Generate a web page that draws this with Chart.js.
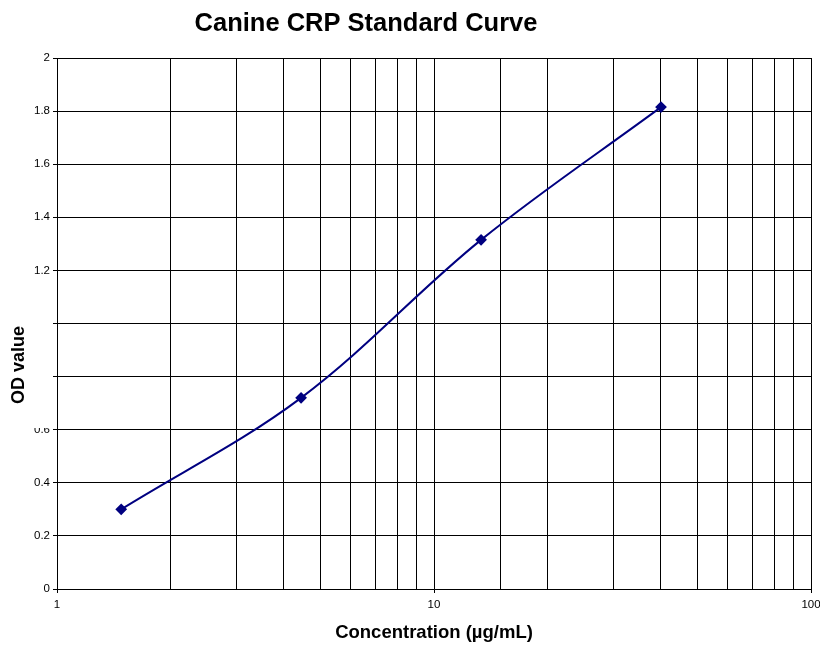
<!DOCTYPE html>
<html>
<head>
<meta charset="utf-8">
<script src="https://cdn.jsdelivr.net/npm/chart.js@4"></script>
<style>
  html, body { margin: 0; padding: 0; background: #fff; }
  #wrap { width: 820px; height: 646px; }
</style>
</head>
<body>
<div id="wrap"><canvas id="chart" width="820" height="646"></canvas></div>
<script>
const concentrations = [1.48, 4.44, 13.33, 40];
const odValues = [0.30, 0.72, 1.315, 1.815];
const xTickLabels = [1, 10, 100];

const FONT = "'Liberation Sans', Arial, sans-serif";

const isDecade = v => xTickLabels.some(t => Math.abs(t - v) < 1e-9);

// titles drawn by hand so the y title can sit on top of the tick labels like the original
const titlesPlugin = {
  id: "titles",
  afterDraw(chart) {
    const ctx = chart.ctx;
    ctx.save();
    ctx.fillStyle = "#000";
    ctx.font = "bold 25.5px " + FONT;
    ctx.textAlign = "center";
    ctx.textBaseline = "middle";
    ctx.fillText("Canine CRP Standard Curve", 366, 24);

    ctx.fillStyle = "#fff";
    ctx.fillRect(0, 315, 50, 113);
    ctx.translate(19, 365);
    ctx.rotate(-Math.PI / 2);
    ctx.fillStyle = "#000";
    ctx.font = "bold 18px " + FONT;
    ctx.fillText("OD value", 0, 0);
    ctx.restore();
  }
};

new Chart(document.getElementById("chart"), {
  type: "line",
  data: {
    datasets: [{
      label: "OD",
      data: concentrations.map((c, i) => ({ x: c, y: odValues[i] })),
      borderColor: "#000080",
      backgroundColor: "#000080",
      borderWidth: 2,
      tension: 0.35,
      pointStyle: "rectRot",
      pointRadius: 4.5,
      pointHoverRadius: 4.5
    }]
  },
  options: {
    responsive: false,
    animation: false,
    layout: { padding: { top: 58, right: 9, left: 0, bottom: 0 } },
    plugins: {
      legend: { display: false },
      tooltip: { enabled: false }
    },
    scales: {
      x: {
        type: "logarithmic",
        min: 1,
        max: 100,
        border: { color: "#000", width: 1 },
        grid: {
          color: "#000",
          lineWidth: 1,
          tickLength: 4,
          tickColor: c => (c.tick && isDecade(c.tick.value)) ? "#000" : "rgba(0,0,0,0)"
        },
        ticks: {
          autoSkip: false,
          maxRotation: 0,
          color: "#000",
          padding: 5,
          font: { family: FONT, size: 11.5 },
          callback: v => isDecade(v) ? String(v) : ""
        },
        title: {
          display: true,
          text: "Concentration (µg/mL)",
          color: "#000",
          font: { family: FONT, size: 18.5, weight: "bold" },
          padding: { top: 4, bottom: 2 }
        },
        afterFit: s => { s.height = 57; s.paddingLeft = 0; s.paddingRight = 0; }
      },
      y: {
        min: 0,
        max: 2,
        border: { color: "#000", width: 1 },
        grid: { color: "#000", lineWidth: 1, tickLength: 4, tickColor: "#000" },
        ticks: {
          stepSize: 0.2,
          color: "#000",
          padding: 3,
          font: { family: FONT, size: 11.5 },
          callback: v => String(Math.round(v * 10) / 10)
        },
        afterFit: s => { s.width = 57; s.paddingTop = 0; s.paddingBottom = 0; }
      }
    }
  },
  plugins: [titlesPlugin]
});
</script>
</body>
</html>
